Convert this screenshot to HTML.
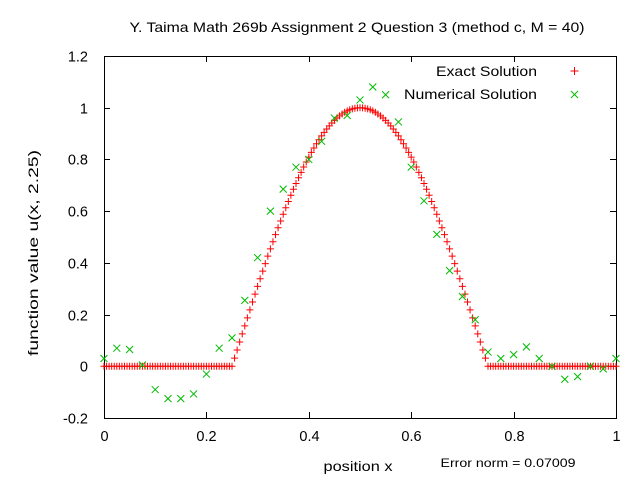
<!DOCTYPE html>
<html><head><meta charset="utf-8"><style>
body{margin:0;background:#fff}
svg{display:block;font-family:"Liberation Sans",sans-serif}
</style></head><body>
<svg id="chart" width="640" height="480">
<rect width="640" height="480" fill="#fff"/>
<text x="357" y="32" text-anchor="middle" font-size="14" textLength="455" lengthAdjust="spacingAndGlyphs">Y. Taima Math 269b Assignment 2 Question 3 (method c, M = 40)</text>
<g id="axes"></g>
<g id="marks"></g>
<text x="358" y="471" text-anchor="middle" font-size="14" textLength="69" lengthAdjust="spacingAndGlyphs">position x</text>
<text transform="translate(38,253) rotate(-90)" text-anchor="middle" font-size="14" textLength="206" lengthAdjust="spacingAndGlyphs">function value u(x, 2.25)</text>
<text x="508" y="467" text-anchor="middle" font-size="12" textLength="135" lengthAdjust="spacingAndGlyphs">Error norm = 0.07009</text>
<g>
<text x="537" y="76" text-anchor="end" font-size="14" textLength="101" lengthAdjust="spacingAndGlyphs">Exact Solution</text>
<path d="M570.5,71 h8 M574.5,67 v8" stroke="#f00" stroke-width="1"/>
<text x="537" y="99" text-anchor="end" font-size="14" textLength="133" lengthAdjust="spacingAndGlyphs">Numerical Solution</text>
<path d="M571,91 l7,7 M578,91 l-7,7" stroke="#0b0" stroke-width="1"/>
</g>
</svg>
<script>
// data
const exactInner = [0,.0314,.0628,.0941,.1253,.1564,.1874,.2181,.2487,.2790,.3090,.3387,.3681,.3971,.4258,.4540,.4818,.5090,.5358,.5621,.5878,.6129,.6374,.6613,.6845,.7071,.7290,.7501,.7705,.7902,.8090,.8271,.8443,.8607,.8763,.8910,.9048,.9178,.9298,.9409,.9511,.9603,.9686,.9759,.9823,.9877,.9921,.9956,.9980,.9995,1,.9995,.9980,.9956,.9921,.9877,.9823,.9759,.9686,.9603,.9511,.9409,.9298,.9178,.9048,.8910,.8763,.8607,.8443,.8271,.8090,.7902,.7705,.7501,.7290,.7071,.6845,.6613,.6374,.6129,.5878,.5621,.5358,.5090,.4818,.4540,.4258,.3971,.3681,.3387,.3090,.2790,.2487,.2181,.1874,.1564,.1253,.0941,.0628,.0314,0];
const exactStep = 0.005;
const numY = [0.03,0.07,0.065,0.005,-0.09,-0.125,-0.125,-0.107,-0.03,0.07,0.11,0.255,0.42,0.6,0.685,0.77,0.80,0.87,0.96,0.97,1.03,1.08,1.05,0.945,0.77,0.64,0.51,0.37,0.27,0.18,0.055,0.03,0.045,0.075,0.03,0.0,-0.05,-0.04,0.0,-0.01,0.03];
const numStep = 0.025;
const xTicks = [0,0.2,0.4,0.6,0.8,1];
const xTickLabels = ["0","0.2","0.4","0.6","0.8","1"];
const yTicks = [-0.2,0,0.2,0.4,0.6,0.8,1,1.2];
const yTickLabels = ["-0.2","0","0.2","0.4","0.6","0.8","1","1.2"];

const L=104,R=616,T=56,B=418;
const sx=v=>L+(v-0)/(1-0)*(R-L);
const sy=v=>B-(v+0.2)/1.4*(B-T);
const NS="http://www.w3.org/2000/svg";
function mk(tag,attrs,parent){const e=document.createElementNS(NS,tag);for(const k in attrs)e.setAttribute(k,attrs[k]);parent.appendChild(e);return e;}
const axes=document.getElementById('axes'), marks=document.getElementById('marks');

const border=mk('rect',{x:L+.5,y:T+.5,width:R-L,height:B-T,fill:'none',stroke:'#000','stroke-width':1},axes);


xTicks.forEach((t,i)=>{
  const x=Math.round(sx(t))+.5;
  const tk=mk('path',{d:`M${x},${B} v-6 M${x},${T} v6`,stroke:'#000'},axes);
  
  
  const lb=mk('text',{x:x,y:B+23,'text-anchor':'middle','font-size':14.5},axes);
  lb.textContent=xTickLabels[i];
  
  
});
yTicks.forEach((t,i)=>{
  const y=Math.round(sy(t))+.5;
  const tk=mk('path',{d:`M${L},${y} h6 M${R},${y} h-6`,stroke:'#000'},axes);
  
  
  const lb=mk('text',{x:88,y:y+5,'text-anchor':'end','font-size':14.5},axes);
  lb.textContent=yTickLabels[i];
  
  
});
// exact: zeros outside [0.25,0.75]
const nTotal=Math.round(1/exactStep)+1;
const startIdx=Math.round(0.25/exactStep);
for(let i=0;i<nTotal;i++){
  const j=i-startIdx;
  const v=(j>=0&&j<exactInner.length)?exactInner[j]:0;
  const x=sx(i*exactStep), y=sy(v);
  const p=mk('path',{d:`M${x-3.5},${y} h7 M${x},${y-3.5} v7`,stroke:'#f00','stroke-width':1},marks);
  
  
}
numY.forEach((v,i)=>{
  const x=sx(i*numStep), y=sy(v);
  const p=mk('path',{d:`M${x-3.5},${y-3.5} l7,7 M${x+3.5},${y-3.5} l-7,7`,stroke:'#0b0','stroke-width':1},marks);
  
  
});
</script>
</body></html>
